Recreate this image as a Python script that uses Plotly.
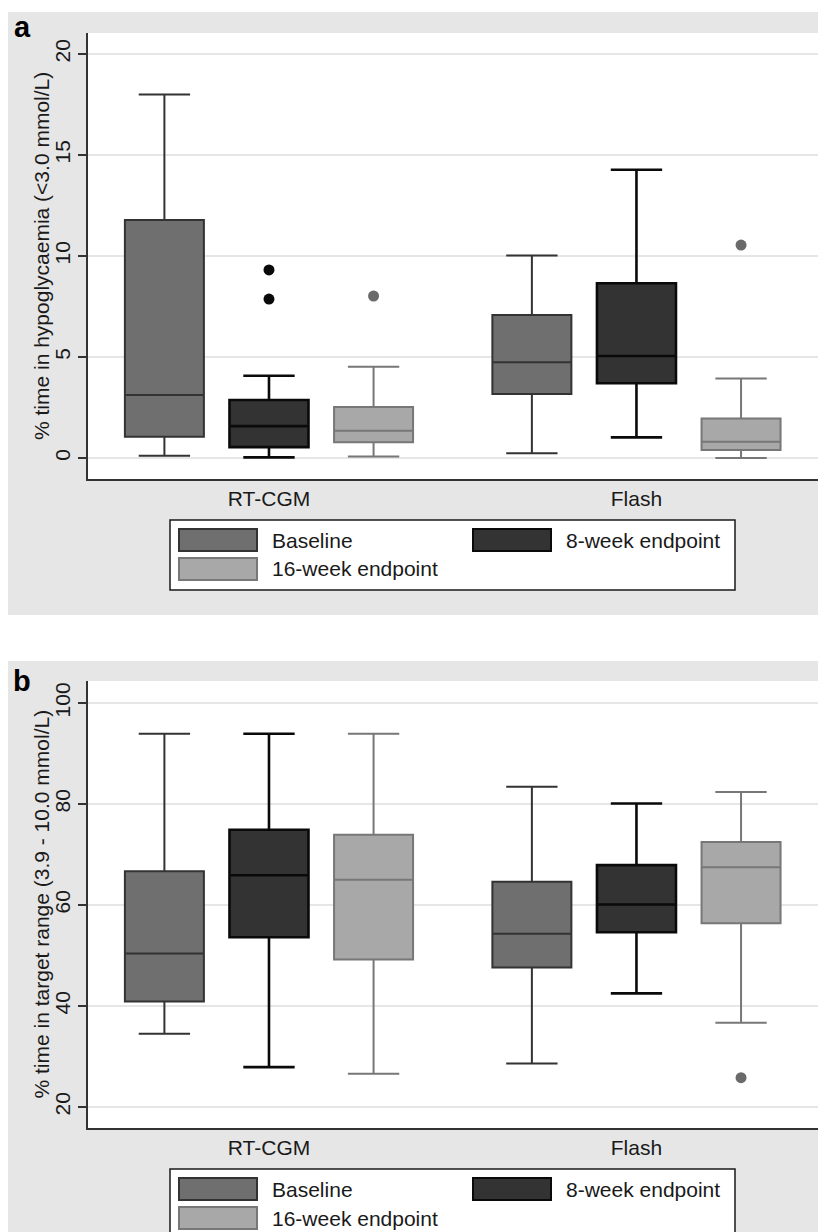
import plotly.graph_objects as go

W, H = 826, 1232

groups = ["RT-CGM", "Flash"]
series = ["Baseline", "8-week endpoint", "16-week endpoint"]

# ---- Panel a: % time in hypoglycaemia (<3.0 mmol/L); rows = series, cols = groups
a_low = [[0.11, 0.23], [0.03, 1.02], [0.07, 0.0]]
a_q1 = [[1.05, 3.17], [0.54, 3.70], [0.78, 0.40]]
a_med = [[3.12, 4.74], [1.58, 5.05], [1.35, 0.81]]
a_q3 = [[11.78, 7.08], [2.87, 8.65], [2.52, 1.95]]
a_high = [[18.0, 10.03], [4.07, 14.27], [4.52, 3.93]]
a_outliers = [[[], []], [[9.31, 7.87], []], [[8.02], [10.54]]]
a_ticks = [0, 5, 10, 15, 20]

# ---- Panel b: % time in target range (3.9 - 10.0 mmol/L)
b_low = [[34.5, 28.6], [27.9, 42.5], [26.6, 36.7]]
b_q1 = [[40.9, 47.6], [53.6, 54.6], [49.2, 56.4]]
b_med = [[50.4, 54.3], [65.9, 60.1], [65.0, 67.5]]
b_q3 = [[66.7, 64.6], [74.9, 67.9], [73.9, 72.5]]
b_high = [[93.9, 83.4], [93.9, 80.1], [93.9, 82.4]]
b_outliers = [[[], []], [[], []], [[], [25.8]]]
b_ticks = [20, 40, 60, 80, 100]

# ---- styling
FILL = ["#6f6f6f", "#333333", "#a8a8a8"]
LINE = ["#333333", "#0a0a0a", "#777777"]
LW = [2, 2.6, 2]
DOT = ["#6f6f6f", "#0a0a0a", "#6a6a6a"]
OFFSETS = [-0.2846, 0.0, 0.2846]
BOX_W = 0.215
FONT = "Liberation Sans, Arial, sans-serif"
FS = 21
OFF = 8  # page body margin in the browser


def px(x):
    return (x - OFF) / W


def py(y):
    return 1 - (y - OFF) / H


fig = go.Figure()

panels = [
    dict(ax="", low=a_low, q1=a_q1, med=a_med, q3=a_q3, high=a_high, out=a_outliers),
    dict(ax="2", low=b_low, q1=b_q1, med=b_med, q3=b_q3, high=b_high, out=b_outliers),
]

for p in panels:
    for s, name in enumerate(series):
        xs = [g + OFFSETS[s] for g in range(len(groups))]
        fig.add_trace(go.Box(
            x=xs, q1=p["q1"][s], median=p["med"][s], q3=p["q3"][s],
            lowerfence=p["low"][s], upperfence=p["high"][s],
            width=BOX_W, whiskerwidth=0.65, boxpoints=False,
            fillcolor=FILL[s], line=dict(color=LINE[s], width=LW[s]),
            name=name, showlegend=False, hoverinfo="skip",
            xaxis="x" + p["ax"], yaxis="y" + p["ax"],
        ))
        ox, oy = [], []
        for g in range(len(groups)):
            for v in p["out"][s][g]:
                ox.append(g + OFFSETS[s])
                oy.append(v)
        if oy:
            fig.add_trace(go.Scatter(
                x=ox, y=oy, mode="markers",
                marker=dict(color=DOT[s], size=11),
                showlegend=False, hoverinfo="skip",
                xaxis="x" + p["ax"], yaxis="y" + p["ax"],
            ))

# geometry (screen pixels of the reference)
PLOT_L, PLOT_R = 88, 818
A_TOP, A_BOT = 33, 479
B_TOP, B_BOT = 681, 1128

axis_common = dict(showline=True, linecolor="#333333", linewidth=1.5, zeroline=False,
                   tickfont=dict(family=FONT, size=FS, color="#1a1a1a"))

xcommon = dict(axis_common, range=[-0.4925, 1.494], tickvals=list(range(len(groups))),
               ticktext=groups, ticks="", showgrid=False, ticklabelstandoff=0,
               domain=[px(PLOT_L), px(PLOT_R)])
ycommon = dict(axis_common, tickangle=-90, ticks="outside", ticklen=8, tickwidth=1.5,
               tickcolor="#333333", showgrid=True, gridcolor="#e6e6e6", gridwidth=1.5)

fig.update_layout(
    width=W, height=H, margin=dict(l=0, r=0, t=0, b=0),
    paper_bgcolor="white", plot_bgcolor="rgba(0,0,0,0)",
    font=dict(family=FONT, size=FS, color="#1a1a1a"),
    xaxis=dict(xcommon, anchor="y"),
    yaxis=dict(ycommon, anchor="x", domain=[py(A_BOT), py(A_TOP)],
               range=[-1.04, 21.04], tickvals=a_ticks),
    xaxis2=dict(xcommon, anchor="y2"),
    yaxis2=dict(ycommon, anchor="x2", domain=[py(B_BOT), py(B_TOP)],
                range=[15.84, 104.36], tickvals=b_ticks),
)

shapes = []
annotations = []

# panel backgrounds
for (t, b) in [(12, 615), (661, 1250)]:
    shapes.append(dict(type="rect", xref="paper", yref="paper", layer="below",
                       x0=px(6), x1=px(830), y0=py(b), y1=py(t),
                       fillcolor="#e6e6e6", line=dict(width=0)))
for ax in ["", "2"]:
    shapes.append(dict(type="rect", xref="x" + ax + " domain", yref="y" + ax + " domain",
                       layer="below", x0=0, x1=1, y0=0, y1=1,
                       fillcolor="white", line=dict(width=0)))

# panel letters and y titles
titles = ["% time in hypoglycaemia (&lt;3.0 mmol/L)",
          "% time in target range (3.9 - 10.0 mmol/L)"]
for letter, ly, top, bot, title in [("a", 27, A_TOP, A_BOT, titles[0]),
                                    ("b", 681, B_TOP, B_BOT, titles[1])]:
    annotations.append(dict(xref="paper", yref="paper", x=px(22), y=py(ly),
                            text="<b>%s</b>" % letter, showarrow=False,
                            font=dict(family=FONT, size=29, color="black"),
                            xanchor="center", yanchor="middle"))
    annotations.append(dict(xref="paper", yref="paper", x=px(41), y=py((top + bot) / 2),
                            text=title, textangle=-90, showarrow=False,
                            font=dict(family=FONT, size=FS, color="#1a1a1a"),
                            xanchor="center", yanchor="middle"))

# legends (drawn manually to mimic large swatches)
for bot in [A_BOT, B_BOT]:
    top = bot + 41
    shapes.append(dict(type="rect", xref="paper", yref="paper", layer="above",
                       x0=px(170), x1=px(735), y0=py(top + 70), y1=py(top),
                       fillcolor="white", line=dict(color="#1a1a1a", width=1.5)))
    slots = [(179, top + 20), (473, top + 20), (179, top + 49)]
    for s, name in enumerate(series):
        sx, cy = slots[s]
        shapes.append(dict(type="rect", xref="paper", yref="paper", layer="above",
                           x0=px(sx), x1=px(sx + 78), y0=py(cy + 11), y1=py(cy - 11),
                           fillcolor=FILL[s], line=dict(color=LINE[s], width=2)))
        annotations.append(dict(xref="paper", yref="paper", x=px(sx + 91), y=py(cy),
                                text=name, showarrow=False, xanchor="left",
                                yanchor="middle",
                                font=dict(family=FONT, size=FS, color="#1a1a1a")))

fig.update_layout(shapes=shapes, annotations=annotations)

fig.write_html("out.html")
